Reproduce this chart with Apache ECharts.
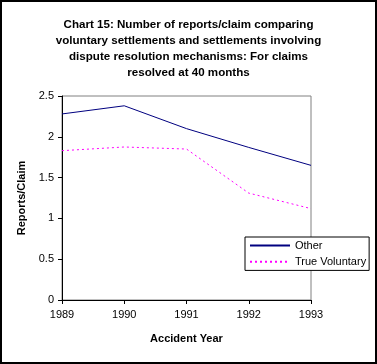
<!DOCTYPE html>
<html>
<head>
<meta charset="utf-8">
<script src="https://cdn.jsdelivr.net/npm/echarts@6/dist/echarts.min.js"></script>
<style>
html,body{margin:0;padding:0;background:#fff;}
#chart{width:377px;height:364px;}
</style>
</head>
<body>
<div id="chart"></div>
<script>
const titleText = "Chart 15: Number of reports/claim comparing\nvoluntary settlements and settlements involving\ndispute resolution mechanisms: For claims\nresolved at 40 months";
const years = ["1989", "1990", "1991", "1992", "1993"];
const otherValues = [2.28, 2.38, 2.10, 1.87, 1.65];
const trueVoluntaryValues = [1.83, 1.875, 1.85, 1.31, 1.12];
const seriesNames = ["Other", "True Voluntary"];
const xAxisTitle = "Accident Year";
const yAxisTitle = "Reports/Claim";

const chart = echarts.init(document.getElementById('chart'), null, {renderer: 'canvas'});
const font = 'Arial, "Liberation Sans", sans-serif';
chart.setOption({
  backgroundColor: '#fff',
  animation: false,
  title: {
    text: titleText,
    left: 'center',
    top: 17,
    padding: 0,
    textStyle: {fontFamily: font, fontSize: 11.6, fontWeight: 'bold', color: '#000', lineHeight: 16}
  },
  graphic: [{
    type: 'rect',
    shape: {x: 1, y: 1, width: 375, height: 362},
    style: {fill: 'none', stroke: '#000', lineWidth: 2},
    z: 100
  }],
  grid: {
    left: 62, right: 66, top: 96, bottom: 64,
    show: true, borderColor: '#808080', borderWidth: 1, backgroundColor: '#fff'
  },
  legend: {
    orient: 'vertical',
    left: 245, top: 237,
    padding: [3, 3, 3, 4],
    itemWidth: 40, itemHeight: 14, itemGap: 5,
    backgroundColor: '#fff',
    borderColor: '#000', borderWidth: 1,
    itemStyle: {opacity: 0},
    textStyle: {fontFamily: font, fontSize: 11, color: '#000'},
    data: seriesNames
  },
  xAxis: {
    type: 'category',
    data: years,
    boundaryGap: false,
    name: xAxisTitle,
    nameLocation: 'middle',
    nameGap: 33,
    nameTextStyle: {fontFamily: font, fontSize: 11, fontWeight: 'bold', color: '#000'},
    axisLine: {lineStyle: {color: '#000', width: 1}},
    axisTick: {length: 4, lineStyle: {color: '#000'}},
    axisLabel: {fontFamily: font, fontSize: 11, color: '#000', margin: 9},
    splitLine: {show: false}
  },
  yAxis: {
    type: 'value',
    min: 0, max: 2.5, interval: 0.5,
    name: yAxisTitle,
    nameLocation: 'middle',
    nameGap: 32,
    nameTextStyle: {fontFamily: font, fontSize: 11, fontWeight: 'bold', color: '#000'},
    axisLine: {show: true, lineStyle: {color: '#000', width: 1}},
    axisTick: {show: true, length: 4, lineStyle: {color: '#000'}},
    axisLabel: {fontFamily: font, fontSize: 11, color: '#000', margin: 8},
    splitLine: {show: false}
  },
  series: [
    {
      name: seriesNames[0],
      type: 'line',
      data: otherValues,
      symbol: 'none',
      lineStyle: {color: '#000080', width: 1},
      itemStyle: {color: '#000080'}
    },
    {
      name: seriesNames[1],
      type: 'line',
      data: trueVoluntaryValues,
      symbol: 'none',
      lineStyle: {color: '#FF00FF', width: 1, type: [2, 3]},
      itemStyle: {color: '#FF00FF'}
    }
  ]
});
</script>
</body>
</html>
